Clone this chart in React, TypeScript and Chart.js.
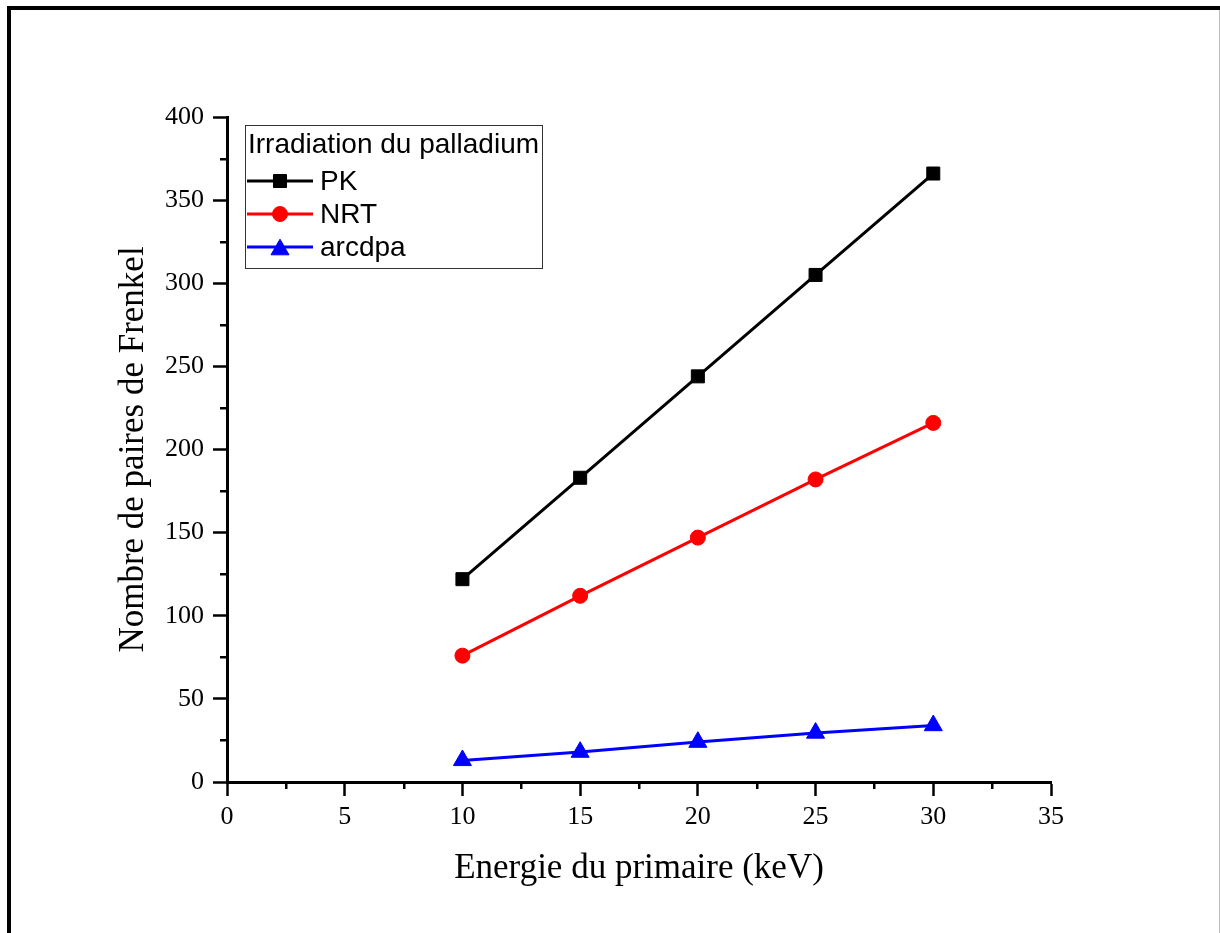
import React, { useEffect, useRef } from 'react';
import { Chart, registerables } from 'chart.js';

Chart.register(...registerables);

// ---- data ----
const energies = [10, 15, 20, 25, 30];
const pkValues = [122, 183, 244, 305, 366];
const nrtValues = [76, 112, 147, 182, 216];
const arcdpaValues = [13, 18, 24, 29.5, 34];

const seriesNames = ['PK', 'NRT', 'arcdpa'];
const seriesColors = ['#000000', '#ff0000', '#0000ff'];
const seriesMarkers = ['rect', 'circle', 'triangle'];
const legendTitle = 'Irradiation du palladium';
const xTitle = 'Energie du primaire (keV)';
const yTitle = 'Nombre de paires de Frenkel';

const xMin = 0;
const xMax = 35;
const xStep = 5;
const yMin = 0;
const yMax = 400;
const yStep = 50;

const SERIF = '"Liberation Serif", "Times New Roman", serif';
const SANS = '"Liberation Sans", Arial, sans-serif';

function drawMarker(ctx: CanvasRenderingContext2D, style: string, x: number, y: number, color: string) {
  ctx.save();
  ctx.fillStyle = color;
  ctx.strokeStyle = color;
  ctx.lineWidth = 1;
  ctx.beginPath();
  if (style === 'rect') {
    const s = 9.2 * Math.SQRT1_2;
    ctx.rect(x - s, y - s, 2 * s, 2 * s);
  } else if (style === 'circle') {
    ctx.arc(x, y, 7.5, 0, Math.PI * 2);
  } else {
    const r = 10.4;
    ctx.moveTo(x, y - r);
    ctx.lineTo(x + 0.866 * r, y + 0.5 * r);
    ctx.lineTo(x - 0.866 * r, y + 0.5 * r);
    ctx.closePath();
  }
  ctx.fill();
  ctx.stroke();
  ctx.restore();
}

const decorPlugin = {
  id: 'decor',
  beforeDraw(chart: any) {
    const ctx: CanvasRenderingContext2D = chart.ctx;
    ctx.save();
    ctx.fillStyle = '#ffffff';
    ctx.fillRect(0, 0, chart.width, chart.height);
    ctx.fillStyle = '#000000';
    ctx.fillRect(7, 6, chart.width - 7, 4);
    ctx.fillRect(7, 6, 4, chart.height - 6);
    ctx.fillStyle = '#bdbdbd';
    ctx.fillRect(chart.width - 1, 10, 1, chart.height - 10);
    ctx.restore();
  },
  afterDraw(chart: any) {
    const ctx: CanvasRenderingContext2D = chart.ctx;
    const xs = chart.scales.x;
    const ys = chart.scales.y;
    const area = chart.chartArea;
    // minor ticks
    ctx.save();
    ctx.strokeStyle = '#000000';
    ctx.lineWidth = 2.5;
    ctx.beginPath();
    for (let v = xMin + xStep / 2; v < xMax; v += xStep) {
      const px = Math.round(xs.getPixelForValue(v)) + 0.25;
      ctx.moveTo(px, area.bottom);
      ctx.lineTo(px, area.bottom + 7);
    }
    for (let v = yMin + yStep / 2; v < yMax; v += yStep) {
      const py = Math.round(ys.getPixelForValue(v)) + 0.25;
      ctx.moveTo(area.left - 7, py);
      ctx.lineTo(area.left, py);
    }
    ctx.stroke();
    ctx.restore();

    // legend
    ctx.save();
    ctx.strokeStyle = '#333333';
    ctx.lineWidth = 1;
    ctx.strokeRect(245.5, 125.5, 297, 143);
    ctx.fillStyle = '#000000';
    ctx.font = '28px ' + SANS;
    ctx.textBaseline = 'alphabetic';
    ctx.textAlign = 'left';
    ctx.fillText(legendTitle, 248, 153);
    const rowY = [181, 214, 247];
    const baseY = [190, 223, 256];
    seriesNames.forEach((name, i) => {
      const y = rowY[i];
      ctx.strokeStyle = seriesColors[i];
      ctx.lineWidth = 3;
      ctx.beginPath();
      ctx.moveTo(247, y);
      ctx.lineTo(313, y);
      ctx.stroke();
      const my = seriesMarkers[i] === 'triangle' ? y + 2.6 : y;
      drawMarker(ctx, seriesMarkers[i], 280, my, seriesColors[i]);
      ctx.fillStyle = '#000000';
      ctx.fillText(name, 320, baseY[i]);
    });
    ctx.restore();
  },
};

export default function App() {
  const canvasRef = useRef<HTMLCanvasElement | null>(null);

  useEffect(() => {
    const canvas = canvasRef.current;
    if (!canvas) return;
    const toPoints = (vals: number[]) => energies.map((x, i) => ({ x, y: vals[i] }));
    const allValues = [pkValues, nrtValues, arcdpaValues];
    const pointRadius = [9.2, 7.5, 10.4];

    const chart = new Chart(canvas, {
      type: 'line',
      data: {
        datasets: seriesNames.map((name, i) => ({
          label: name,
          data: toPoints(allValues[i]),
          borderColor: seriesColors[i],
          backgroundColor: seriesColors[i],
          borderWidth: 3,
          pointStyle: seriesMarkers[i] as any,
          pointRadius: pointRadius[i],
          pointBorderWidth: 1,
          pointBackgroundColor: seriesColors[i],
          pointBorderColor: seriesColors[i],
          tension: 0,
          fill: false,
        })),
      },
      options: {
        animation: false,
        responsive: false,
        devicePixelRatio: 1,
        layout: { padding: { left: 113, top: 117, right: 169, bottom: 43 } },
        plugins: {
          legend: { display: false },
          tooltip: { enabled: false },
          title: { display: false },
        },
        scales: {
          x: {
            type: 'linear',
            min: xMin,
            max: xMax,
            afterFit: (scale: any) => {
              scale.height = 108;
            },
            ticks: {
              stepSize: xStep,
              color: '#000000',
              font: { family: SERIF, size: 26 },
              padding: 6,
              maxRotation: 0,
              autoSkip: false,
            },
            grid: {
              display: true,
              drawOnChartArea: false,
              drawTicks: true,
              tickLength: 14,
              tickWidth: 2.5,
              tickColor: '#000000',
            },
            border: { display: true, color: '#000000', width: 3 },
            title: {
              display: true,
              text: xTitle,
              color: '#000000',
              font: { family: SERIF, size: 35 },
              padding: { top: 0, bottom: 0 },
            },
          },
          y: {
            type: 'linear',
            min: yMin,
            max: yMax,
            afterFit: (scale: any) => {
              scale.width = 114;
            },
            ticks: {
              stepSize: yStep,
              color: '#000000',
              font: { family: SERIF, size: 26 },
              padding: 9,
            },
            grid: {
              display: true,
              drawOnChartArea: false,
              drawTicks: true,
              tickLength: 14,
              tickWidth: 2.5,
              tickColor: '#000000',
            },
            border: { display: true, color: '#000000', width: 3 },
            title: {
              display: true,
              text: yTitle,
              color: '#000000',
              font: { family: SERIF, size: 35 },
              padding: { top: 0, bottom: 0 },
            },
          },
        },
      },
      plugins: [decorPlugin],
    });

    return () => {
      chart.destroy();
    };
  }, []);

  return (
    <div style={{ position: 'fixed', left: 0, top: 0, width: 1220, height: 933, background: '#ffffff' }}>
      <canvas ref={canvasRef} width={1220} height={933} style={{ width: 1220, height: 933, display: 'block' }} />
    </div>
  );
}
